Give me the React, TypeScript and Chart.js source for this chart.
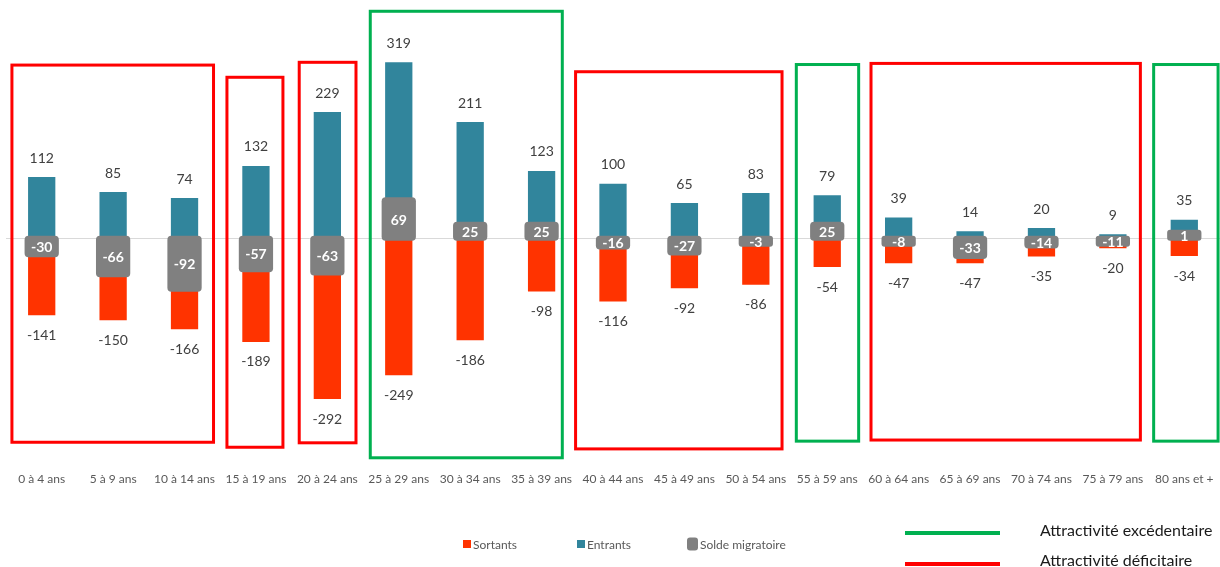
import React, { useEffect, useRef } from 'react';
import { Chart, registerables } from 'chart.js';
Chart.register(...registerables);

const categories = [
  '0 à 4 ans', '5 à 9 ans', '10 à 14 ans', '15 à 19 ans', '20 à 24 ans', '25 à 29 ans',
  '30 à 34 ans', '35 à 39 ans', '40 à 44 ans', '45 à 49 ans', '50 à 54 ans', '55 à 59 ans',
  '60 à 64 ans', '65 à 69 ans', '70 à 74 ans', '75 à 79 ans', '80 ans et +',
];
const entrants = [112, 85, 74, 132, 229, 319, 211, 123, 100, 65, 83, 79, 39, 14, 20, 9, 35];
const sortants = [-141, -150, -166, -189, -292, -249, -186, -98, -116, -92, -86, -54, -47, -47, -35, -20, -34];
const solde = [-30, -66, -92, -57, -63, 69, 25, 25, -16, -27, -3, 25, -8, -33, -14, -11, 1];

// Annotation boxes: left/right as fractional category index, kind, top/bottom in value units
const groupLeft = [-0.417, 2.594, 3.606, 4.601, 7.476, 10.567, 11.613, 15.571];
const groupRight = [2.406, 3.378, 4.401, 7.29, 10.367, 11.44, 15.385, 16.473];
const groupKind = ['deficit', 'deficit', 'deficit', 'excedent', 'deficit', 'excedent', 'deficit', 'excedent'];
const groupTop = [312, 290, 317, 409, 300, 313, 315, 313];
const groupBottom = [-368, -377, -369, -396, -380, -366, -364, -366];

const RED = '#FF3300';
const BLUE = '#31859C';
const GREY = '#808080';
const BOX_RED = '#FF0000';
const BOX_GREEN = '#00B050';
const FONT = 'Lato, "Open Sans", sans-serif';

const overlayPlugin = {
  id: 'overlay',
  beforeDatasetsDraw(chart: any) {
    const { ctx, chartArea, scales } = chart;
    const y0 = Math.round(scales.y.getPixelForValue(0)) + 0.5;
    ctx.save();
    ctx.strokeStyle = '#D9D9D9';
    ctx.lineWidth = 1;
    ctx.beginPath();
    ctx.moveTo(chartArea.left, y0);
    ctx.lineTo(chartArea.right, y0);
    ctx.stroke();
    ctx.restore();
  },
  afterDatasetsDraw(chart: any) {
    const { ctx } = chart;
    const mRed = chart.getDatasetMeta(0);
    const mBlue = chart.getDatasetMeta(1);
    const mGrey = chart.getDatasetMeta(2);
    ctx.save();
    ctx.textAlign = 'center';
    ctx.textBaseline = 'middle';
    ctx.font = `14px ${FONT}`;
    ctx.fillStyle = '#404040';
    for (let i = 0; i < categories.length; i++) {
      const b = mBlue.data[i];
      ctx.fillText(String(entrants[i]), b.x, b.y - 18);
      const r = mRed.data[i];
      ctx.fillText(String(sortants[i]), r.x, r.y + 19);
    }
    ctx.font = `bold 14px ${FONT}`;
    ctx.fillStyle = '#FFFFFF';
    for (let i = 0; i < categories.length; i++) {
      const g = mGrey.data[i];
      ctx.fillText(String(solde[i]), g.x, (g.y + g.base) / 2 + 1);
    }
    ctx.restore();
  },
  afterDraw(chart: any) {
    const { ctx, scales } = chart;
    const xs = scales.x;
    const ys = scales.y;
    const step = (xs.right - xs.left) / categories.length;
    const x0 = xs.getPixelForValue(0);
    ctx.save();
    ctx.lineWidth = 3;
    for (let g = 0; g < groupLeft.length; g++) {
      const left = x0 + groupLeft[g] * step;
      const right = x0 + groupRight[g] * step;
      const top = ys.getPixelForValue(groupTop[g]);
      const bottom = ys.getPixelForValue(groupBottom[g]);
      ctx.strokeStyle = groupKind[g] === 'excedent' ? BOX_GREEN : BOX_RED;
      ctx.strokeRect(left, top, right - left, bottom - top);
    }
    ctx.restore();

    // Series legend
    ctx.save();
    ctx.font = `12px ${FONT}`;
    ctx.textBaseline = 'middle';
    ctx.textAlign = 'left';
    const ly = 544;
    const items = [
      { label: 'Sortants', color: RED, x: 463, w: 8, h: 8, r: 0 },
      { label: 'Entrants', color: BLUE, x: 577, w: 8, h: 8, r: 0 },
      { label: 'Solde migratoire', color: GREY, x: 687, w: 11, h: 13, r: 3 },
    ];
    for (const it of items) {
      ctx.fillStyle = it.color;
      ctx.beginPath();
      if (it.r) {
        (ctx as any).roundRect(it.x, ly - it.h / 2, it.w, it.h, it.r);
      } else {
        ctx.rect(it.x, ly - it.h / 2, it.w, it.h);
      }
      ctx.fill();
      ctx.fillStyle = '#595959';
      ctx.fillText(it.label, it.x + it.w + 2, ly + 1);
    }
    // Attractivity legend
    ctx.lineWidth = 4;
    ctx.strokeStyle = BOX_GREEN;
    ctx.beginPath();
    ctx.moveTo(905, 533);
    ctx.lineTo(1000, 533);
    ctx.stroke();
    ctx.strokeStyle = BOX_RED;
    ctx.beginPath();
    ctx.moveTo(905, 564);
    ctx.lineTo(1000, 564);
    ctx.stroke();
    ctx.font = `16px ${FONT}`;
    ctx.fillStyle = '#1a1a1a';
    ctx.fillText('Attractivité excédentaire', 1040, 531);
    ctx.fillText('Attractivité déficitaire', 1040, 561);
    ctx.restore();
  },
};

export default function App() {
  const ref = useRef<HTMLCanvasElement>(null);
  useEffect(() => {
    const canvas = ref.current;
    if (!canvas) return;
    const chart = new Chart(canvas, {
      type: 'bar',
      data: {
        labels: categories,
        datasets: [
          {
            label: 'Sortants', data: sortants, backgroundColor: RED,
            borderColor: 'rgba(255,255,255,0.35)', borderWidth: 1,
            barPercentage: 0.41, categoryPercentage: 1, order: 2,
          },
          {
            label: 'Entrants', data: entrants, backgroundColor: BLUE,
            borderColor: 'rgba(255,255,255,0.35)', borderWidth: 1,
            barPercentage: 0.41, categoryPercentage: 1, order: 1,
          },
          {
            label: 'Solde migratoire', data: solde, backgroundColor: GREY,
            barPercentage: 0.41, categoryPercentage: 1, order: 0,
            borderRadius: 4, borderSkipped: false, inflateAmount: 2.5, minBarLength: 6,
          } as any,
        ],
      },
      options: {
        responsive: false,
        animation: false,
        devicePixelRatio: 1,
        layout: { padding: { top: 44, left: 6, right: 0, bottom: 0 } },
        plugins: { legend: { display: false }, tooltip: { enabled: false } },
        scales: {
          x: {
            stacked: true,
            grid: { display: false, drawTicks: false },
            border: { display: false },
            ticks: {
              autoSkip: false, maxRotation: 0, minRotation: 0, padding: 12,
              color: '#595959', font: { family: FONT, size: 12 },
            },
            afterFit: (s: any) => { s.height = 107; s.paddingLeft = 0; s.paddingRight = 0; },
          },
          y: { display: false, min: -400, max: 350 },
        },
      },
      plugins: [overlayPlugin],
    });
    return () => chart.destroy();
  }, []);
  return (
    <div style={{ position: 'fixed', left: 0, top: 0, width: 1220, height: 567, background: '#fff' }}>
      <canvas ref={ref} width={1220} height={567} />
    </div>
  );
}
